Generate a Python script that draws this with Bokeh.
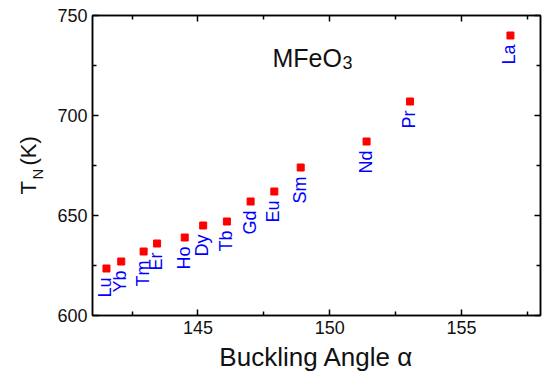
import math
from bokeh.plotting import figure
from bokeh.layouts import row
from bokeh.models import LinearAxis, FixedTicker, Label, ColumnDataSource, Range1d
from bokeh.core.properties import value
from bokeh.embed import file_html
from bokeh.resources import INLINE

# Data
elements = ["Lu", "Yb", "Tm", "Er", "Ho", "Dy", "Tb", "Gd", "Eu", "Sm", "Nd", "Pr", "La"]
buckling_angle = [141.53, 142.09, 142.94, 143.45, 144.5, 145.2, 146.1, 147.0, 147.9, 148.9, 151.4, 153.05, 156.86]
t_neel = [623.5, 627, 632, 636, 639, 645, 647, 657, 662, 674, 687, 707, 740]
x_ticks = [145, 150, 155]
x_minor = [142.5, 147.5, 152.5, 157.5]
y_ticks = [600, 650, 700, 750]
y_minor = [625, 675, 725]

FONT = "Liberation Sans"
INK = "#111111"
LAB_W = 50   # width of the strip that carries the y-axis title
H = 374

src = ColumnDataSource(dict(x=buckling_angle, y=t_neel, name=elements))

p = figure(width=547 - LAB_W, height=H, output_backend="svg", toolbar_location=None,
           x_range=Range1d(141, 158), y_range=Range1d(600, 750),
           frame_width=448, frame_height=300,
           min_border_left=92 - LAB_W, min_border_right=7, min_border_top=15, min_border_bottom=59)
p.xgrid.visible = False
p.ygrid.visible = False
p.outline_line_color = "black"
p.outline_line_width = 1.5
p.background_fill_color = "white"
p.border_fill_color = "white"

def style_axis(ax, ticks, minor, show_labels):
    ax.ticker = FixedTicker(ticks=ticks, minor_ticks=minor)
    ax.axis_line_color = "black"
    ax.axis_line_width = 1.5
    ax.major_tick_line_color = "black"
    ax.major_tick_line_width = 1.5
    ax.minor_tick_line_color = "black"
    ax.minor_tick_line_width = 1.5
    ax.major_tick_in = 6
    ax.major_tick_out = 0
    ax.minor_tick_in = 4
    ax.minor_tick_out = 0
    ax.major_label_text_font = FONT
    ax.major_label_text_color = INK
    if show_labels:
        ax.major_label_text_font_size = "18px"
        ax.major_label_standoff = 5
    else:
        ax.major_label_text_font_size = "0px"
        ax.major_label_text_alpha = 0
        ax.major_label_standoff = 0

style_axis(p.xaxis[0], x_ticks, x_minor, True)
style_axis(p.yaxis[0], y_ticks, y_minor, True)
p.xaxis[0].axis_label = "Buckling Angle α"
p.xaxis[0].axis_label_text_font = FONT
p.xaxis[0].axis_label_text_font_style = "normal"
p.xaxis[0].axis_label_text_font_size = "26px"
p.xaxis[0].axis_label_text_color = INK
p.xaxis[0].axis_label_standoff = 5

top = LinearAxis()
style_axis(top, x_ticks, x_minor, False)
p.add_layout(top, "above")
right = LinearAxis()
style_axis(right, y_ticks, y_minor, False)
p.add_layout(right, "right")

p.scatter("x", "y", source=src, marker="square", size=7, fill_color="#ff0000", line_color="#ff0000")
p.text("x", "y", text="name", source=src, angle=math.pi / 2, text_align="right",
       text_baseline="middle", y_offset=9, x_offset=-1,
       text_font=value(FONT), text_font_size="18px", text_color="#0000ff")

# Title inside plot
p.add_layout(Label(x=147.83, y=729, text="MFeO", text_font=FONT, text_font_size="25px",
                   text_color=INK, text_baseline="alphabetic"))
p.add_layout(Label(x=147.83, y=729, x_offset=70, y_offset=-5, text="3", text_font=FONT,
                   text_font_size="18px", text_color=INK, text_baseline="alphabetic"))

# Narrow strip on the left carrying the y-axis title T_N(K)
ylab = figure(width=LAB_W, height=H, output_backend="svg", toolbar_location=None,
              x_range=Range1d(0, LAB_W), y_range=Range1d(0, H),
              x_axis_type=None, y_axis_type=None, min_border=0,
              frame_width=LAB_W, frame_height=H)
ylab.outline_line_color = None
ylab.background_fill_color = "white"
ylab.border_fill_color = "white"
for txt, xx, yy, fs in [("T", 28, 195, "22px"), ("N", 37, 210, "15px"), ("(K)", 28, 224, "22px")]:
    ylab.add_layout(Label(x=xx, y=yy, text=txt, angle=math.pi / 2,
                          text_font=FONT, text_font_size=fs, text_color=INK,
                          text_align="left", text_baseline="alphabetic"))

layout = row(ylab, p)
open("out.html", "w").write(file_html(layout, INLINE))
